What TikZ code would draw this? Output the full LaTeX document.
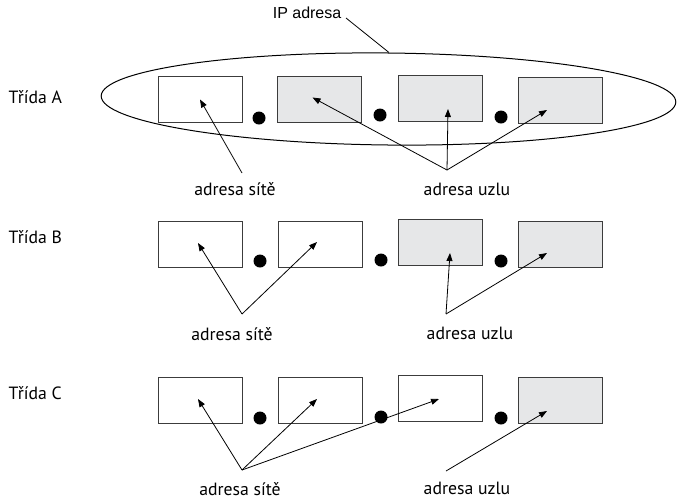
\documentclass[tikz,border=0pt]{standalone}
\usepackage{fontspec}
\setmainfont{PT Sans}
\newfontfamily\ipfont{Liberation Sans}
\usetikzlibrary{arrows.meta,shapes.geometric}
\definecolor{vypln}{HTML}{E6E7E8}
\definecolor{okraj}{HTML}{3C3C3C}
\begin{document}
\begin{tikzpicture}[x=0.75pt, y=-0.75pt,
    every node/.style = {font=\fontsize{13.3}{15}\selectfont},
    pole/.style = {shape=rectangle, draw=okraj, line width=0.75pt,
      minimum width=63pt, minimum height=34.5pt, inner sep=0pt, fill=white},
    uzel/.style = {pole, fill=vypln},
    tecka/.style = {shape=circle, fill=black, minimum size=9.75pt, inner sep=0pt},
    sipka/.style = {-{Triangle[length=6pt,width=4.5pt]}, line width=0.6pt}]
  \useasboundingbox (0,0) rectangle (677,501);
  % Trida A
  \node[anchor=west] (tA) at (4,97) {Třída A};
  \node[draw, line width=0.75pt, shape=ellipse, inner sep=0pt,
    minimum width=431pt, minimum height=69pt, rotate=-0.6] (ip) at (388.5,99) {};
  \node[font=\ipfont\fontsize{12}{14}\selectfont, anchor=base east] (ipt) at (346,18) {IP adresa};
  \draw[line width=0.6pt] (ipt.base east) -- (ip.north);
  \node[pole] (a1) at (200,99.5) {};
  \node[uzel] (a2) at (319.5,99.5) {};
  \node[uzel] (a3) at (440,98) {};
  \node[uzel] (a4) at (560,100) {};
  \node[tecka] (da1) at (259,118) {};
  \node[tecka] (da2) at (380,115) {};
  \node[tecka] (da3) at (501,117) {};
  \node (sA) at (235,189) {adresa sítě};
  \node (uA) at (467,189) {adresa uzlu};
  \coordinate (pA) at (242,173);
  \coordinate (qA) at (447,170);
  \draw[sipka] (pA) -- (a1.center);
  \draw[sipka] (qA) -- ([shift={(-7,-2)}]a2.center);
  \draw[sipka] (qA) -- ([shift={(8,11)}]a3.center);
  \draw[sipka] (qA) -- ([shift={(-13,10)}]a4.center);
  % Trida B
  \node[anchor=west] (tB) at (4,237) {Třída B};
  \node[pole] (b1) at (200,244) {};
  \node[pole] (b2) at (320,244) {};
  \node[uzel] (b3) at (440.5,242) {};
  \node[uzel] (b4) at (560.5,244) {};
  \node[tecka] (db1) at (260,261) {};
  \node[tecka] (db2) at (381,260) {};
  \node[tecka] (db3) at (501,261) {};
  \node (sB) at (232,334) {adresa sítě};
  \node (uB) at (470,333) {adresa uzlu};
  \coordinate (pB) at (242,314);
  \coordinate (qB) at (446,314);
  \draw[sipka] (pB) -- ([shift={(-2,-1)}]b1.center);
  \draw[sipka] (pB) -- ([shift={(-3,-2)}]b2.center);
  \draw[sipka] (qB) -- ([shift={(9.5,11)}]b3.center);
  \draw[sipka] (qB) -- ([shift={(-13.5,9)}]b4.center);
  % Trida C
  \node[anchor=west] (tC) at (4,393) {Třída C};
  \node[pole] (c1) at (200,400.5) {};
  \node[pole] (c2) at (320,400.5) {};
  \node[pole] (c3) at (440.5,398) {};
  \node[uzel] (c4) at (560.5,400) {};
  \node[tecka] (dc1) at (260,418) {};
  \node[tecka] (dc2) at (381,417) {};
  \node[tecka] (dc3) at (501,418) {};
  \node (sC) at (240,489) {adresa sítě};
  \node (uC) at (467,488) {adresa uzlu};
  \coordinate (pC) at (242,470);
  \coordinate (qC) at (446,471);
  \draw[sipka] (pC) -- ([shift={(-2,-1.5)}]c1.center);
  \draw[sipka] (pC) -- ([shift={(-3,-1.5)}]c2.center);
  \draw[sipka] (pC) -- ([shift={(-1.5,1)}]c3.center);
  \draw[sipka] (qC) -- ([shift={(-13.5,11)}]c4.center);
\end{tikzpicture}
\end{document}
